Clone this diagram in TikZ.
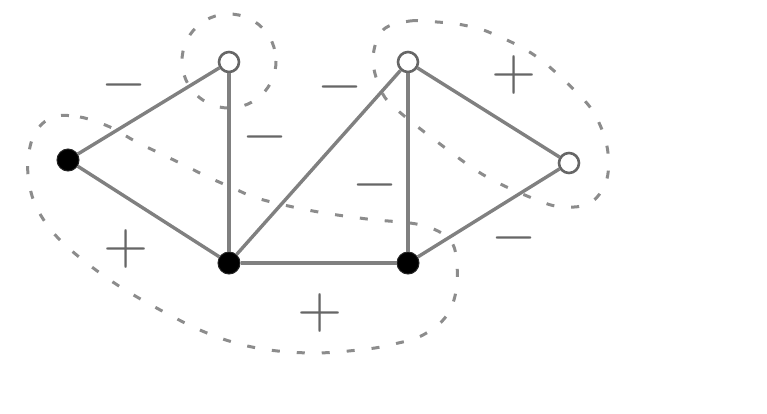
\documentclass[tikz,border=0pt]{standalone}
\usepackage{graphicx}
\newcommand{\bigsign}[1]{\scalebox{5.8}{$#1$}}
\begin{document}
\begin{tikzpicture}[x=1pt,y=-1pt,
  filledv/.style={circle,fill=black,draw=black!85,line width=1pt,minimum size=22pt,inner sep=0pt},
  openv/.style={circle,fill=white,draw=black!60,line width=2.6pt,minimum size=20pt,inner sep=0pt},
  edgeline/.style={draw=black!50,line width=3.4pt},
  loopline/.style={draw=black!45,line width=3pt,dash pattern=on 8pt off 17pt},
  sign/.style={text=black!60,inner sep=0pt}]
\useasboundingbox (0,0) rectangle (767,413);
% loops
\draw[loopline] (229,61) circle[radius=47];
\draw[loopline] plot[smooth cycle,tension=0.6] coordinates {
  (53,117) (80,117) (110,127) (133,140) (157,152) (182,164) (208,177) (233,188)
  (260,199) (313,211) (367,219) (421,225) (450,240) (457,266) (455,296)
  (444,319) (421,336) (394,344) (367,349) (313,353) (257,348) (207,333)
  (153,306) (107,278) (63,243) (40,214) (30,188) (28,160) (35,133)};
\draw[loopline] plot[smooth cycle,tension=0.6] coordinates {
  (383,30) (410,21) (437,22) (463,25) (491,33) (537,57) (584,100) (600,125)
  (608,153) (606,182) (590,203) (563,207) (537,200) (487,177) (444,147)
  (395,108) (380,88) (373,58)};
% vertices
\node[filledv] (A) at (68,160) {};
\node[openv] (B) at (229,62) {};
\node[filledv] (C) at (229,263) {};
\node[openv] (D) at (408,62) {};
\node[filledv] (E) at (408,263) {};
\node[openv] (F) at (569,163) {};
% edges
\draw[edgeline] (A) -- (B);
\draw[edgeline] (A) -- (C);
\draw[edgeline] (B) -- (C);
\draw[edgeline] (C) -- (D);
\draw[edgeline] (C) -- (E);
\draw[edgeline] (D) -- (E);
\draw[edgeline] (D) -- (F);
\draw[edgeline] (E) -- (F);
% signs
\node[sign] (m1) at (124,85) {\bigsign{-}};
\node[sign] (m2) at (265,137) {\bigsign{-}};
\node[sign] (m3) at (340,87) {\bigsign{-}};
\node[sign] (m4) at (375,185) {\bigsign{-}};
\node[sign] (m5) at (514,238) {\bigsign{-}};
\node[sign] (p1) at (126,249) {\bigsign{+}};
\node[sign] (p2) at (320,313) {\bigsign{+}};
\node[sign] (p3) at (514,75) {\bigsign{+}};
\end{tikzpicture}
\end{document}
